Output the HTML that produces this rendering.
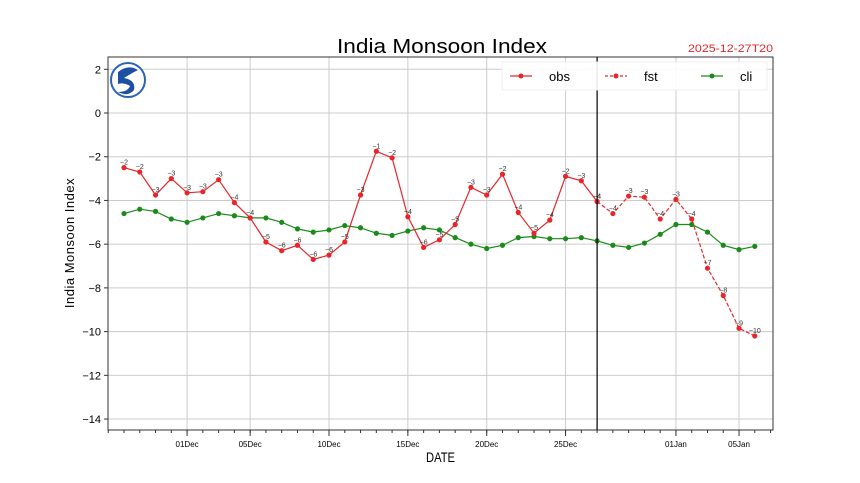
<!DOCTYPE html>
<html><head><meta charset="utf-8"><style>
body{margin:0;background:#fff;}
svg{display:block;font-family:"Liberation Sans","WenQuanYi Zen Hei",sans-serif;}
</style></head><body>
<svg id="chart" width="860" height="483">
<text x="337" y="53" font-size="20" textLength="210" lengthAdjust="spacingAndGlyphs">India Monsoon Index</text>
<text x="773" y="52" text-anchor="end" font-size="11" textLength="85" lengthAdjust="spacingAndGlyphs" fill="#e8262a">2025-12-27T20</text>
<g id="grid"></g>
<g id="series"></g>
<g id="axes"></g>
<g>
<circle cx="128" cy="80" r="17" fill="#fff" stroke="#2a63b8" stroke-width="2"/>
<path d="M118 72 Q128 64 138 70 Q130 74 124 78 Q136 80 134 90 Q128 97 118 92 Q128 92 130 86 Q124 82 118 84 Z" fill="#1d4fa3"/>
</g>
<g>
<rect x="502" y="62" width="265" height="28" fill="#fff" stroke="#eee" opacity="0.9"/>
<line x1="510" y1="76" x2="532" y2="76" stroke="#e8262a" stroke-width="1.3"/><circle cx="521" cy="76" r="2.5" fill="#e8262a"/>
<text x="549" y="81" font-size="13">obs</text>
<line x1="605" y1="76" x2="627" y2="76" stroke="#e8262a" stroke-width="1.3" stroke-dasharray="3,2"/><circle cx="616" cy="76" r="2.5" fill="#e8262a"/>
<text x="644" y="81" font-size="13">fst</text>
<line x1="701" y1="76" x2="723" y2="76" stroke="#1a8a1a" stroke-width="1.3"/><circle cx="712" cy="76" r="2.5" fill="#1a8a1a"/>
<text x="740" y="81" font-size="13">cli</text>
</g>
<text x="426" y="462" font-size="14" textLength="29" lengthAdjust="spacingAndGlyphs">DATE</text>
<text transform="translate(74,243) rotate(-90)" text-anchor="middle" font-size="13" letter-spacing="0.5">India Monsoon Index</text>
</svg>
<script>
const obsValues=[-2.5,-2.7,-3.75,-3.0,-3.65,-3.6,-3.05,-4.1,-4.8,-5.9,-6.3,-6.05,-6.7,-6.5,-5.9,-3.75,-1.75,-2.05,-4.75,-6.15,-5.8,-5.1,-3.4,-3.75,-2.8,-4.55,-5.5,-4.9,-2.9,-3.1,-4.05];
const fstValues=[-4.05,-4.6,-3.8,-3.85,-4.85,-3.95,-4.85,-7.1,-8.35,-9.85,-10.2];
const cliValues=[-4.6,-4.4,-4.5,-4.85,-5.0,-4.8,-4.6,-4.7,-4.8,-4.8,-5.0,-5.3,-5.45,-5.35,-5.15,-5.25,-5.5,-5.6,-5.4,-5.25,-5.35,-5.7,-6.0,-6.2,-6.05,-5.7,-5.65,-5.75,-5.75,-5.7,-5.85,-6.05,-6.15,-5.95,-5.55,-5.1,-5.1,-5.45,-6.05,-6.25,-6.1];
const yTicks=[2,0,-2,-4,-6,-8,-10,-12,-14];
const xTickIdx=[4,8,13,18,23,28,35,39];
const xTickLabels=["01Dec","05Dec","10Dec","15Dec","20Dec","25Dec","01Jan","05Jan"];
const fstStart=30;

const L=108,R=773,T=57,B=430;
const x=i=>124+i*15.77;
const y=v=>113-v*21.86;
const NS="http://www.w3.org/2000/svg";
function mk(tag,attrs,parent){const e=document.createElementNS(NS,tag);for(const k in attrs)e.setAttribute(k,attrs[k]);parent.appendChild(e);return e;}
const grid=document.getElementById('grid'),ser=document.getElementById('series'),ax=document.getElementById('axes');
yTicks.forEach(v=>{
  const l=mk('line',{x1:L,x2:R,y1:y(v),y2:y(v),stroke:'#ccc','stroke-width':1},grid);
  
  
  const t=mk('line',{x1:L-4,x2:L,y1:y(v),y2:y(v),stroke:'#333'},ax);
  const tx=mk('text',{x:L-7,y:y(v)+4,'text-anchor':'end','font-size':11},ax);
  tx.textContent=String(v).replace('-','\u2212');
  
  
});
xTickIdx.forEach((i,k)=>{
  const l=mk('line',{x1:x(i),x2:x(i),y1:T,y2:B,stroke:'#ccc'},grid);
  
  
  mk('line',{x1:x(i),x2:x(i),y1:B,y2:B+6,stroke:'#333'},ax);
  const tx=mk('text',{x:x(i),y:B+17,'text-anchor':'middle','font-size':8},ax);
  tx.textContent=xTickLabels[k];
  
  
});
for(let i=-1;i<=41;i++){if(x(i)>L&&x(i)<R)mk('line',{x1:x(i),x2:x(i),y1:B,y2:B+3,stroke:'#333'},ax);}
mk('rect',{x:L,y:T,width:R-L,height:B-T,fill:'none',stroke:'#333'},ax);
const vl=mk('line',{x1:x(fstStart),x2:x(fstStart),y1:T,y2:B,stroke:'#000','stroke-width':1.2},ax);


function series(vals,off,color,dash,name,labels){
  const pts=vals.map((v,i)=>x(i+off).toFixed(1)+','+y(v).toFixed(1)).join(' ');
  const pl=mk('polyline',{points:pts,fill:'none',stroke:color,'stroke-width':1.2,'stroke-dasharray':dash||'none'},ser);
  
  
  vals.forEach((v,i)=>{
    const c=mk('circle',{cx:x(i+off),cy:y(v),r:2.6,fill:color},ser);
    
    
    if(labels){
      const t=mk('text',{x:x(i+off),y:y(v)-3,'text-anchor':'middle','font-size':7,fill:'#333'},ser);
      t.textContent=String(Math.trunc(v)).replace('-','\u2212');
      
      
    }
  });
}
series(cliValues,0,'#1a8a1a',null,'cli',false);
series(fstValues,fstStart,'#e8262a','4,2','fst',true);
series(obsValues,0,'#e8262a',null,'obs',true);
</script>
</body></html>
